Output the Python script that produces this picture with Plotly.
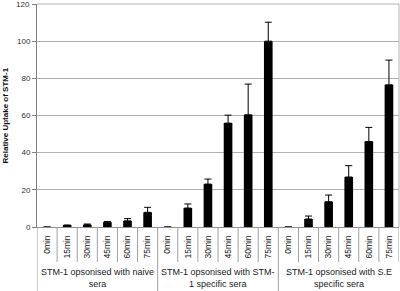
import plotly.graph_objects as go

times = ["0min", "15min", "30min", "45min", "60min", "75min"]
groups = ["STM-1 opsonised with naive<br>sera",
          "STM-1 opsonised with STM-<br>1 specific sera",
          "STM-1 opsonised with S.E<br>specific sera"]
naive_vals = [0, 0.8, 1.2, 2.6, 3.3, 7.9]
naive_err = [0, 0.3, 0.4, 0.3, 1.2, 2.7]
stm_vals = [0, 10.2, 23.1, 55.9, 60.4, 100]
stm_err = [0, 2.2, 2.7, 4.3, 16.5, 10.2]
se_vals = [0, 4.3, 13.6, 26.9, 46.0, 76.5]
se_err = [0, 1.6, 3.6, 6.1, 7.6, 13.3]
y_ticks = [0, 20, 40, 60, 80, 100, 120]
y_title = "Relative Uptake of STM-1"

values = naive_vals + stm_vals + se_vals
errors = naive_err + stm_err + se_err
labels = times * 3
xs = list(range(len(values)))

FONT = "Liberation Sans, Arial, sans-serif"

fig = go.Figure()
fig.add_trace(go.Bar(
    x=xs, y=values, width=0.43,
    marker=dict(color="black", line=dict(width=0)),
    error_y=dict(type="data", symmetric=False, array=errors,
                 arrayminus=[0] * len(errors), color="black",
                 thickness=1, width=3.5),
))

plot_h = 223.0
shapes = []
n = len(values)
for k in range(n + 1):
    b = k - 0.5
    is_group = (k % 6 == 0) and k != n
    y0 = -64.0 / plot_h if is_group else -35.0 / plot_h
    shapes.append(dict(type="line", xref="x", yref="paper", x0=b, x1=b,
                       y0=0, y1=y0, line=dict(color="#a0a0a0", width=1)))

annotations = []
for gi, g in enumerate(groups):
    annotations.append(dict(x=gi * 6 + 2.5, xref="x", y=-38.0 / plot_h, yref="paper",
                            text=g, showarrow=False, xanchor="center", yanchor="top",
                            font=dict(family=FONT, size=9, color="#222")))
annotations.append(dict(x=0, xref="paper", xshift=-32, y=0.5, yref="paper",
                        text="<b>" + y_title + "</b>", textangle=-90, showarrow=False,
                        xanchor="center", yanchor="middle",
                        font=dict(family=FONT, size=8, color="#111")))
# top tick label (plotly drops it at the very edge of the page)
annotations.append(dict(x=0, xref="paper", xshift=-5, y=y_ticks[-1], yref="y",
                        text=str(y_ticks[-1]), showarrow=False,
                        xanchor="right", yanchor="middle",
                        font=dict(family=FONT, size=8, color="#333")))

fig.update_layout(
    width=400, height=291,
    margin=dict(l=37, r=1, t=4, b=64),
    paper_bgcolor="white", plot_bgcolor="white",
    showlegend=False,
    shapes=shapes, annotations=annotations,
    xaxis=dict(range=[-0.5, n - 0.5], tickvals=xs, ticktext=labels,
               tickangle=-90, ticks="", showgrid=False, zeroline=False,
               showline=True, linecolor="#909090", linewidth=1,
               tickfont=dict(family=FONT, size=8.5, color="#222"),
               ticklabelstandoff=4, automargin=False),
    yaxis=dict(range=[0, 120], tickvals=y_ticks,
               showgrid=True,
               gridcolor="#b0b0b0", gridwidth=1, zeroline=False,
               showline=True, linecolor="#808080", linewidth=1,
               ticks="outside", ticklen=4, tickcolor="#808080",
               tickfont=dict(family=FONT, size=8, color="#333"),
               automargin=False),
)
fig.add_shape(type="line", xref="paper", yref="paper", x0=1, x1=1, y0=0, y1=1,
              line=dict(color="#b0b0b0", width=1))
fig.add_shape(type="line", xref="paper", yref="paper", x0=0, x1=1, y0=1, y1=1,
              line=dict(color="#b0b0b0", width=1))
fig.write_html("out.html", config={"displayModeBar": False},
               post_script="document.body.style.margin='0';")
